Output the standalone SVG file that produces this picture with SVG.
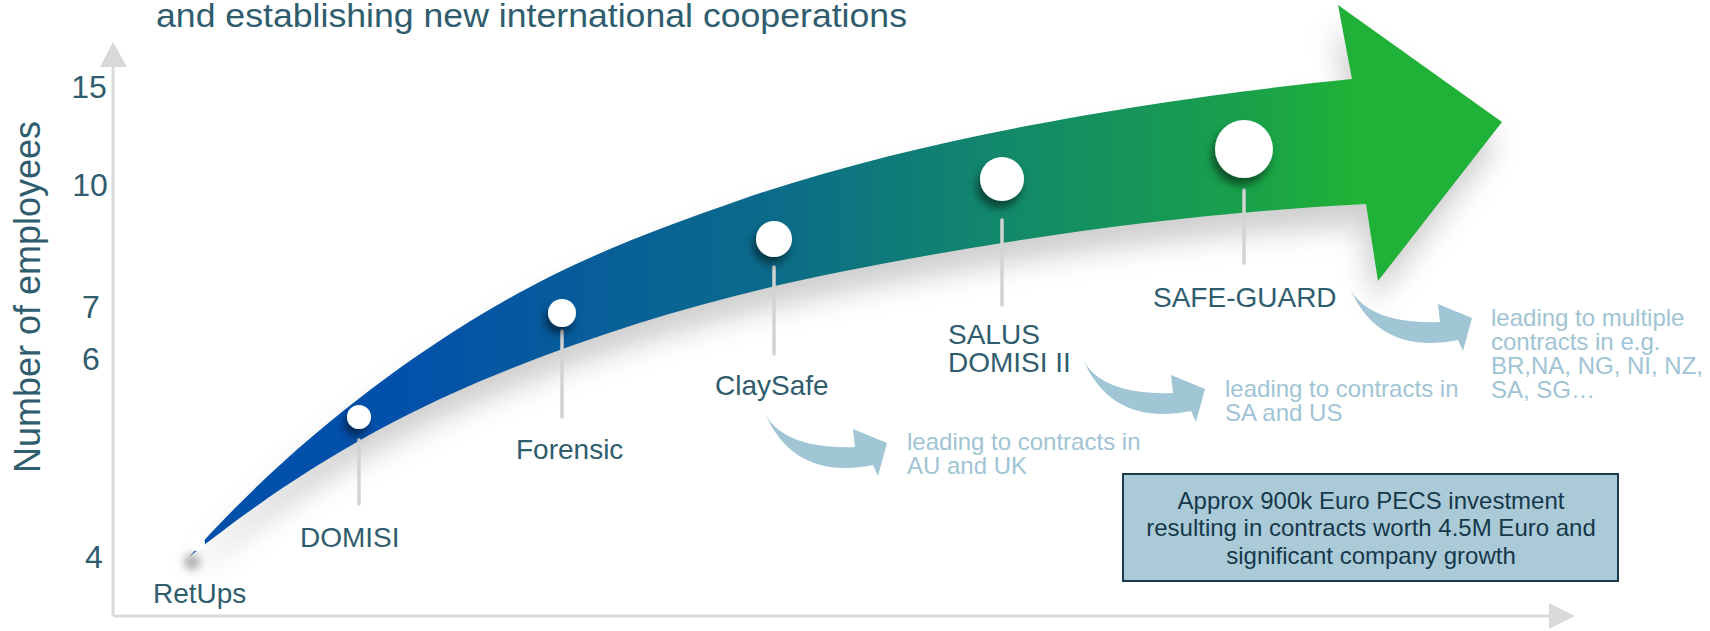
<svg xmlns="http://www.w3.org/2000/svg" width="1710" height="631" viewBox="0 0 1710 631">
<defs>
<linearGradient id="bandGrad" gradientUnits="userSpaceOnUse" x1="400" y1="0" x2="1352" y2="0">
<stop offset="0" stop-color="#0350ab"/>
<stop offset="0.39" stop-color="#0b6b8a"/>
<stop offset="0.63" stop-color="#12886b"/>
<stop offset="0.89" stop-color="#19a14a"/>
<stop offset="1" stop-color="#20b138"/>
</linearGradient>
<filter id="blur" x="-20%" y="-30%" width="140%" height="170%"><feGaussianBlur stdDeviation="14"/></filter>
<filter id="dotShadow" x="-100%" y="-100%" width="300%" height="300%"><feDropShadow dx="-3" dy="7" stdDeviation="4" flood-color="#000" flood-opacity="0.5"/></filter>
<filter id="softBlur" x="-100%" y="-100%" width="300%" height="300%"><feGaussianBlur stdDeviation="4"/></filter>
<path id="bandShape" d="M189,557 C284,450 392,368 482,314 C572,260 650,231.5 740,200 C940,130 1202,94 1352,79 L1338,5 L1502,122 L1378,281 L1366,204 C1191,213 1015,237 840,272 C720,296 603,330 483,380 C383,422 289,477 189,557 Z"/>
<path id="curveArrow" d="M0,0 C10,22 40,36 90,34 L88,16 L122,30 L113,63 L108,52 C60,62 20,48 0,0 Z"/>
</defs>
<style>
.lbl{font-family:"Liberation Sans",Arial,sans-serif;font-size:28px;fill:#2f5d6e}
.ylbl{font-family:"Liberation Sans",Arial,sans-serif;font-size:36px;fill:#2f5d6e;text-anchor:middle}
.axisnum{font-family:"Liberation Sans",Arial,sans-serif;font-size:32px;fill:#2f5d6e;text-anchor:middle}
.note{font-family:"Liberation Sans",Arial,sans-serif;font-size:24px;fill:#a0c4d4}
.boxtxt{font-family:"Liberation Sans",Arial,sans-serif;font-size:24px;fill:#16384a;text-anchor:middle}
.axis{stroke:#d9d9d9;stroke-width:3;fill:none}
.axhead{fill:#d9d9d9}
.lead{stroke:#d3d3d3;stroke-width:3.5;stroke-linecap:round}
.dot{fill:#ffffff;filter:url(#dotShadow)}
.carrow{fill:#a0c5d5}
</style>
<rect width="1710" height="631" fill="#ffffff"/>

<g id="title">
<text x="156" y="27" font-family="Liberation Sans, Arial, sans-serif" font-size="33" fill="#2f5d6e" textLength="751" lengthAdjust="spacingAndGlyphs">and establishing new international cooperations</text>
</g>

<g id="axes">
<line class="axis" x1="113" y1="66" x2="113" y2="616"/>
<line class="axis" x1="113" y1="616" x2="1550" y2="616"/>
<polygon class="axhead" points="113,42 100,67 127,67"/>
<polygon class="axhead" points="1575,616 1549,603 1549,629"/>
<text class="ylbl" transform="translate(40,297) rotate(-90)">Number of employees</text>
<text class="axisnum" x="89" y="98">15</text>
<text class="axisnum" x="90" y="196">10</text>
<text class="axisnum" x="91" y="318">7</text>
<text class="axisnum" x="91" y="370">6</text>
<text class="axisnum" x="94" y="568">4</text>
</g>

<g id="growth-arrow">
<use href="#bandShape" fill="#8c8c8c" opacity="0.42" transform="translate(-4,22)" filter="url(#blur)"/>
<use href="#bandShape" fill="url(#bandGrad)"/>
</g>

<g id="connectors">
<line class="lead" x1="359" y1="440" x2="359" y2="504"/>
<line class="lead" x1="562" y1="331" x2="562" y2="417"/>
<line class="lead" x1="774" y1="267" x2="774" y2="354"/>
<line class="lead" x1="1002" y1="220" x2="1002" y2="305"/>
<line class="lead" x1="1244" y1="190" x2="1244" y2="263"/>
<use class="carrow" href="#curveArrow" transform="translate(765,413)"/>
<use class="carrow" href="#curveArrow" transform="translate(1083,359)"/>
<use class="carrow" href="#curveArrow" transform="translate(1350,288)"/>
</g>

<g id="node-retups">
<circle cx="192" cy="562" r="8" fill="#777" opacity="0.6" filter="url(#softBlur)"/>
<circle cx="197" cy="543" r="8" fill="#ffffff"/>
<text class="lbl" x="153" y="603">RetUps</text>
</g>
<g id="node-domisi">
<circle class="dot" cx="359" cy="417" r="12"/>
<text class="lbl" x="300" y="547">DOMISI</text>
</g>
<g id="node-forensic">
<circle class="dot" cx="562" cy="313" r="14"/>
<text class="lbl" x="516" y="459">Forensic</text>
</g>
<g id="node-claysafe">
<circle class="dot" cx="774" cy="239" r="18"/>
<text class="lbl" x="715" y="395">ClaySafe</text>
</g>
<g id="node-salus">
<circle class="dot" cx="1002" cy="179" r="22"/>
<text class="lbl" x="948" y="344">SALUS</text>
<text class="lbl" x="948" y="372">DOMISI II</text>
</g>
<g id="node-safeguard">
<circle class="dot" cx="1244" cy="149" r="29"/>
<text class="lbl" x="1153" y="307">SAFE-GUARD</text>
</g>

<g id="note-au-uk">
<text class="note" x="907" y="450">leading to contracts in</text>
<text class="note" x="907" y="474">AU and UK</text>
</g>
<g id="note-sa-us">
<text class="note" x="1225" y="397">leading to contracts in</text>
<text class="note" x="1225" y="421">SA and US</text>
</g>
<g id="note-multiple">
<text class="note" x="1491" y="326">leading to multiple</text>
<text class="note" x="1491" y="350">contracts in e.g.</text>
<text class="note" x="1491" y="374">BR,NA, NG, NI, NZ,</text>
<text class="note" x="1491" y="398">SA, SG…</text>
</g>

<g id="summary-box">
<rect x="1123" y="474" width="495" height="107" fill="#abcad8" stroke="#1c3a4c" stroke-width="2"/>
<text class="boxtxt" x="1371" y="509">Approx 900k Euro PECS investment</text>
<text class="boxtxt" x="1371" y="536">resulting in contracts worth 4.5M Euro and</text>
<text class="boxtxt" x="1371" y="564">significant company growth</text>
</g>
</svg>
